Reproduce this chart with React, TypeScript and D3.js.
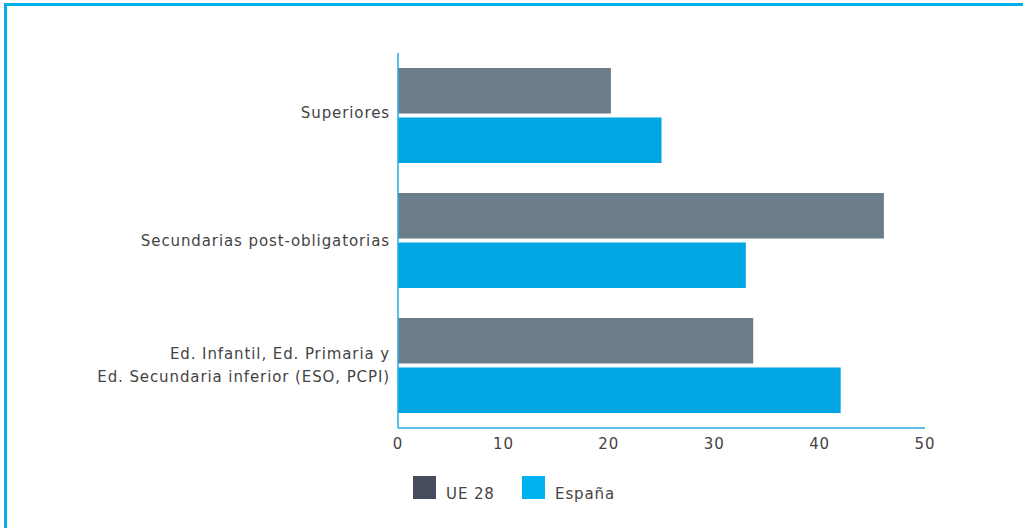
import React from 'react';
import * as d3 from 'd3';

// categories (top to bottom) and values
const categories = [
  'Superiores',
  'Secundarias post-obligatorias',
  'Ed. Infantil, Ed. Primaria y\nEd. Secundaria inferior (ESO, PCPI)',
];
const seriesNames = ['UE 28', 'España'];
const ue28 = [20.2, 46.1, 33.7];
const espana = [25.0, 33.0, 42.0];
const xTicks = [0, 10, 20, 30, 40, 50];

const barColors = ['#6a7d89', '#00a6e2'];
const legendColors = ['#464c5c', '#00b2ef'];

const width = 1023;
const height = 528;
const margin = { top: 53, right: 98, bottom: 100, left: 398 };
const font = "'DejaVu Sans', 'Open Sans', sans-serif";
const textColor = '#444';
const fontSize = 15;
const spacing = 0.9;

const App: React.FC = () => {
  const innerW = width - margin.left - margin.right;
  const innerH = height - margin.top - margin.bottom;

  const x = d3.scaleLinear().domain([0, 50]).range([0, innerW]);
  const y = d3.scaleBand<string>()
    .domain(categories)
    .range([0, innerH])
    .paddingInner(0.24)
    .paddingOuter(0.12);
  const ySub = d3.scaleBand<string>()
    .domain(seriesNames)
    .range([0, y.bandwidth()])
    .paddingInner(0.08);

  const values = [ue28, espana];

  return (
    <svg width={width} height={height} style={{ position: 'absolute', left: 0, top: 0, background: '#fff' }}>
      {/* frame */}
      <path d={`M5.5,${height + 5} V4.5 H${width + 5}`} fill="none" stroke="#00aee8" strokeWidth={3} />

      <g transform={`translate(${margin.left},${margin.top})`}>
        {/* bars */}
        {categories.map((c, i) =>
          seriesNames.map((s, j) => (
            <rect
              key={`${c}-${s}`}
              x={x(0)}
              y={(y(c) ?? 0) + (ySub(s) ?? 0)}
              width={x(values[j][i]) - x(0)}
              height={ySub.bandwidth()}
              fill={barColors[j]}
            />
          ))
        )}

        {/* category labels */}
        {categories.map((c, i) => {
          const lines = c.split('\n');
          const cy = (y(c) ?? 0) + y.bandwidth() / 2 - (i === 0 ? 3 : 0);
          return (
            <text
              key={c}
              x={-8}
              y={cy - ((lines.length - 1) * 23) / 2}
              textAnchor="end"
              dominantBaseline="central"
              fontFamily={font}
              fontSize={fontSize}
              letterSpacing={spacing}
              fill={textColor}
            >
              {lines.map((l, k) => (
                <tspan key={k} x={-8} dy={k === 0 ? 0 : 23}>{l}</tspan>
              ))}
            </text>
          );
        })}

        {/* axes */}
        <line x1={0} x2={0} y1={0} y2={innerH} stroke="#29abe2" strokeWidth={1.5} />
        <line x1={0} x2={innerW} y1={innerH} y2={innerH} stroke="#29abe2" strokeWidth={1.5} />
        {xTicks.map(t => (
          <text
            key={t}
            x={x(t)}
            y={innerH + 16}
            textAnchor="middle"
            dominantBaseline="central"
            fontFamily={font}
            fontSize={fontSize}
            letterSpacing={spacing}
            fill={textColor}
          >
            {t}
          </text>
        ))}
      </g>

      {/* legend */}
      {seriesNames.map((s, j) => {
        const lx = 413 + j * 109;
        return (
          <g key={s} transform={`translate(${lx},476)`}>
            <rect width={23} height={23} fill={legendColors[j]} />
            <text x={33} y={17.5} dominantBaseline="central" fontFamily={font} fontSize={fontSize} letterSpacing={spacing} fill={textColor}>{s}</text>
          </g>
        );
      })}
    </svg>
  );
};

export default App;
